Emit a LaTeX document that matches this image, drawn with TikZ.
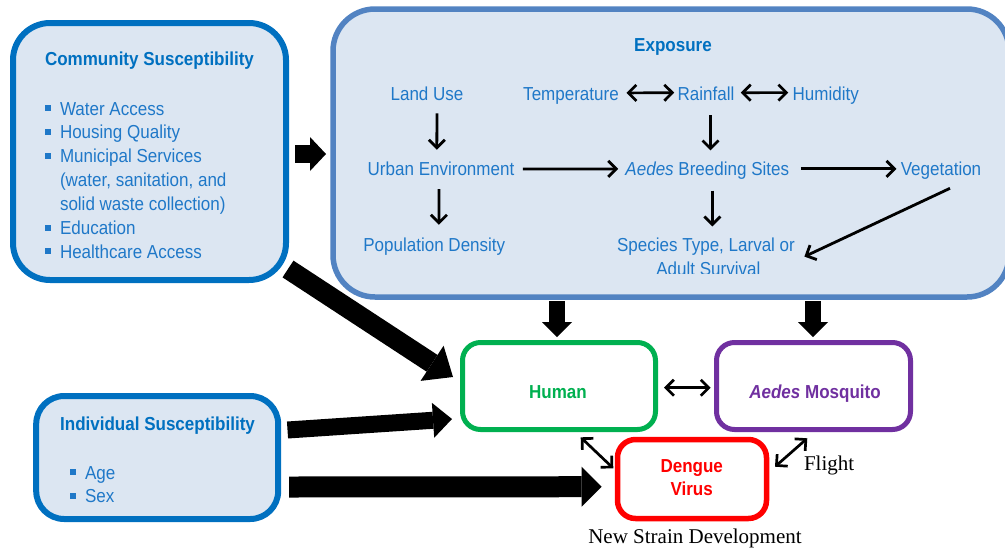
\documentclass[tikz,border=0pt]{standalone}
\usepackage{fontspec}
\setmainfont{Liberation Sans}[FakeStretch=0.905]
\newfontfamily\timesf{Liberation Serif}
\usetikzlibrary{arrows.meta}
\definecolor{cblue}{HTML}{0070C0}
\definecolor{tblue}{HTML}{1F78C8}
\definecolor{eblue}{HTML}{5283C2}
\definecolor{bfill}{HTML}{DCE6F2}
\definecolor{hgreen}{HTML}{00B050}
\definecolor{mpurple}{HTML}{7030A0}
\definecolor{dred}{HTML}{FF0000}
\newcommand{\bul}{\llap{\rule[4pt]{6pt}{6pt}\hspace{9.5pt}}}
\begin{document}
\begin{tikzpicture}[x=1pt,y=-1pt,
  box/.style={draw, inner sep=0pt, outer sep=0pt},
  lab/.style={inner sep=0pt, outer sep=0pt, anchor=base, text=tblue, font=\fontsize{18.8}{22}\selectfont},
  labl/.style={lab, anchor=base west},
  ttl/.style={lab, text=cblue, font=\fontsize{18.8}{22}\selectfont\bfseries},
  serif/.style={inner sep=0pt, outer sep=0pt, anchor=base, text=black, font=\timesf\fontsize{21}{24}\selectfont},
  sarr/.style={line width=2.8pt, -{Straight Barb[length=8pt,width=16pt]}},
  darr/.style={line width=2.7pt, {Straight Barb[length=8pt,width=16pt]}-{Straight Barb[length=8pt,width=16pt]}},
  bigarr/.style n args={3}{line width=#1, -{Triangle[length=#3,width=#2,line width=0pt]}}
]
\useasboundingbox (0,0) rectangle (1005,550);

% boxes
\node[box, draw=cblue, fill=bfill, line width=6pt, rounded corners=37pt,
      minimum width=273pt, minimum height=257pt] (comm) at (149.5,151.5) {};
\node[box, draw=eblue, fill=bfill, line width=5.5pt, rounded corners=42pt,
      minimum width=676pt, minimum height=288pt] (expo) at (671,153) {};
\node[box, draw=cblue, fill=bfill, line width=6pt, rounded corners=28pt,
      minimum width=242pt, minimum height=123pt] (indiv) at (157.2,457.5) {};
\node[box, draw=hgreen, fill=white, line width=5pt, rounded corners=18pt,
      minimum width=193pt, minimum height=87pt] (human) at (559,386) {};
\node[box, draw=mpurple, fill=white, line width=5pt, rounded corners=18pt,
      minimum width=194pt, minimum height=87pt] (mosq) at (813.5,386) {};
\node[box, draw=dred, fill=white, line width=5.5pt, rounded corners=18pt,
      minimum width=149pt, minimum height=79pt] (dengue) at (692,479) {};

% community text
\node[ttl] (commt) at (149.5,65.7) {Community Susceptibility};
\node[labl] (c1) at (60,115) {\bul Water Access};
\node[labl] (c2) at (60,138.9) {\bul Housing Quality};
\node[labl] (c3) at (60,162.8) {\bul Municipal Services};
\node[labl] (c4) at (60,186.7) {(water, sanitation, and};
\node[labl] (c5) at (60,210.6) {solid waste collection)};
\node[labl] (c6) at (60,234.5) {\bul Education};
\node[labl] (c7) at (60,258.3) {\bul Healthcare Access};

% exposure text
\node[ttl] (expot) at (673,51.7) {Exposure};
\node[lab] (landuse) at (427,100) {Land Use};
\node[lab] (temp) at (571,100) {Temperature};
\node[lab] (rain) at (706,100) {Rainfall};
\node[lab] (hum) at (825.7,100) {Humidity};
\node[lab] (urban) at (441,175) {Urban Environment};
\node[lab] (aedes) at (707.3,175) {\textit{Aedes} Breeding Sites};
\node[lab] (veg) at (941,175) {Vegetation};
\node[lab] (popd) at (434.3,251.7) {Population Density};
\node[lab] (species) at (706,251) {Species Type, Larval or};
\begin{scope}
  \clip (600,255) rectangle (820,273.8);
  \node[lab] (adult) at (708.4,275) {Adult Survival};
\end{scope}

% individual text
\node[ttl] (indivt) at (157.5,430.7) {Individual Susceptibility};
\node[labl] (i1) at (85,479.3) {\bul Age};
\node[labl] (i2) at (85,502.7) {\bul Sex};

% outcome boxes text
\node[lab, text=hgreen, font=\fontsize{18.8}{22}\selectfont\bfseries] (humant) at (558,398.3) {Human};
\node[lab, text=mpurple, font=\fontsize{18.8}{22}\selectfont\bfseries] (mosqt) at (815,398.3) {\textit{Aedes} Mosquito};
\node[lab, text=dred, font=\fontsize{18.8}{22}\selectfont\bfseries] (dent1) at (691.7,472.7) {Dengue};
\node[lab, text=dred, font=\fontsize{18.8}{22}\selectfont\bfseries] (dent2) at (691.7,495.7) {Virus};
\node[serif, anchor=base west] (flight) at (804,470) {Flight};
\node[serif] (strain) at (695,543) {New Strain Development};

% thin arrows inside exposure
\draw[sarr] ([shift={(10,13.3)}]landuse.south) -- ([shift={(-4.2,-11.6)}]urban.north);
\draw[sarr] ([shift={(4.5,15)}]rain.south) -- ([shift={(3.2,-10.9)}]aedes.north);
\draw[sarr] ([shift={(-2,14)}]urban.south) -- ([shift={(4.6,-13.3)}]popd.north);
\draw[sarr] ([shift={(5,11.8)}]aedes.south) -- ([shift={(6.3,-10.9)}]species.north);
\draw[sarr] ([shift={(8.7,0.7)}]urban.east) -- ([shift={(-7.3,-1.25)}]aedes.west);
\draw[sarr] ([shift={(11.7,-1.25)}]aedes.east) -- ([shift={(-4.3,-1.25)}]veg.west);
\draw[darr] ([shift={(7.7,-2.55)}]temp.east) -- ([shift={(-3.4,-0.6)}]rain.west);
\draw[darr] ([shift={(6.4,-0.6)}]rain.east) -- ([shift={(-4.3,-2.55)}]hum.west);
\draw[sarr] ([shift={(9,9.4)}]veg.south) -- ([shift={(9.5,10.45)}]species.east);

% arrows between outcome boxes
\draw[darr] ([shift={(8.5,1.7)}]human.east) -- ([shift={(-5.8,1.7)}]mosq.west);
\draw[darr] ([shift={(21.7,7.8)}]human.south) -- ([shift={(-4.2,-10.7)}]dengue.west);
\draw[darr] ([shift={(-6.2,8.8)}]mosq.south) -- ([shift={(8.5,-12.3)}]dengue.east);

% block arrows
\draw[bigarr={18pt}{34pt}{16pt}] ([shift={(9,2.5)}]comm.east) -- ([shift={(-7,1)}]expo.west);
\draw[bigarr={20pt}{42pt}{25pt}] ([shift={(2,-11)}]comm.south east) -- ([shift={(-9.5,-9)}]human.west);
\draw[bigarr={17pt}{35pt}{19pt}] ([shift={(9.3,-27.5)}]indiv.east) -- ([shift={(-10.5,33)}]human.west);
\draw[bigarr={21pt}{40pt}{20pt}] ([shift={(11,29.5)}]indiv.east) -- ([shift={(-15.8,7.7)}]dengue.west);
\draw[bigarr={16pt}{30pt}{15pt}] ([shift={(-114,4)}]expo.south) -- ([shift={(-2,-5.5)}]human.north);
\draw[bigarr={16pt}{30pt}{15pt}] ([shift={(142,4)}]expo.south) -- ([shift={(-0.5,-5.5)}]mosq.north);
\end{tikzpicture}
\end{document}
